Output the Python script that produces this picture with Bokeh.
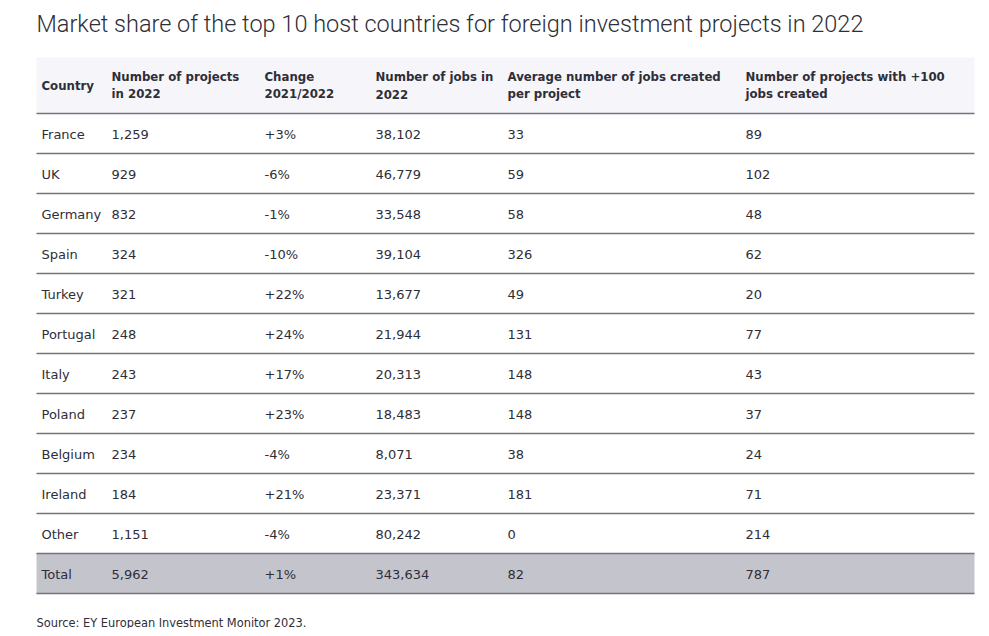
from bokeh.plotting import figure
from bokeh.models import Range1d
from bokeh.core.properties import value
from bokeh.embed import file_html
from bokeh.resources import INLINE

title = "Market share of the top 10 host countries for foreign investment projects in 2022"
source_note = "Source: EY European Investment Monitor 2023."

headers = [
    ["Country"],
    ["Number of projects", "in 2022"],
    ["Change", "2021/2022"],
    ["Number of jobs in", "2022"],
    ["Average number of jobs created", "per project"],
    ["Number of projects with +100", "jobs created"],
]

countries = ["France", "UK", "Germany", "Spain", "Turkey", "Portugal", "Italy",
             "Poland", "Belgium", "Ireland", "Other", "Total"]
projects = ["1,259", "929", "832", "324", "321", "248", "243", "237", "234", "184", "1,151", "5,962"]
change = ["+3%", "-6%", "-1%", "-10%", "+22%", "+24%", "+17%", "+23%", "-4%", "+21%", "-4%", "+1%"]
jobs = ["38,102", "46,779", "33,548", "39,104", "13,677", "21,944", "20,313", "18,483",
        "8,071", "23,371", "80,242", "343,634"]
avg_jobs = ["33", "59", "58", "326", "49", "131", "148", "148", "38", "181", "0", "82"]
over_100 = ["89", "102", "48", "62", "20", "77", "43", "37", "24", "71", "214", "787"]

# layout (page pixel coordinates)
W, H = 981, 628
X0, X1 = 36, 974
COL_X = [41, 111, 264, 375, 507, 745]
HEAD_TOP, HEAD_BOT = 57, 113
ROW_H = 40
TEXT_C = "#2e2e38"
LINE_C = "#747480"

p = figure(width=W, height=H, output_backend="svg", toolbar_location=None,
           x_range=Range1d(0, W), y_range=Range1d(H, 0),
           min_border=0, outline_line_color=None, background_fill_color="white")
p.xaxis.visible = False
p.yaxis.visible = False
p.grid.visible = False

# header background
p.quad(left=[X0], right=[X1], top=[HEAD_TOP], bottom=[HEAD_BOT],
       fill_color="#f6f6fa", line_color=None)

n = len(countries)
tops = [HEAD_BOT + ROW_H * i for i in range(n)]
bots = [t + ROW_H for t in tops]

# total row background
p.quad(left=[X0], right=[X1], top=[tops[-1]], bottom=[bots[-1]],
       fill_color="#c4c4cd", line_color=None)

# row lines
ys = [HEAD_BOT] + bots
p.segment(x0=[X0] * len(ys), x1=[X1] * len(ys), y0=ys, y1=ys,
          line_color=LINE_C, line_width=1.3)

# header texts
hx, hy, ht = [], [], []
for cx, lines in zip(COL_X, headers):
    if len(lines) == 1:
        hx.append(cx); hy.append((HEAD_TOP + HEAD_BOT) / 2 + 0.5); ht.append(lines[0])
    else:
        for k, ln in enumerate(lines):
            hx.append(cx); hy.append(76.5 + 17 * k); ht.append(ln)
p.text(x=hx, y=hy, text=ht, text_font=value("DejaVu Sans"), text_font_style="bold",
       text_font_size="11.75px", text_color=TEXT_C, text_baseline="middle", text_align="left")

# body texts
cols = [countries, projects, change, jobs, avg_jobs, over_100]
bx, by, bt = [], [], []
for cx, col in zip(COL_X, cols):
    for i, v in enumerate(col):
        bx.append(cx); by.append(tops[i] + ROW_H / 2 + 0.5); bt.append(v)
p.text(x=bx, y=by, text=bt, text_font=value("DejaVu Sans"),
       text_font_size="13px", text_color=TEXT_C, text_baseline="middle", text_align="left")

# title and source
p.text(x=[36], y=[23], text=[title], text_font=value("'Roboto Light', Roboto"), text_font_style="normal",
       text_font_size="23.5px", text_color=TEXT_C, text_baseline="middle", text_align="left")
p.text(x=[36], y=[622], text=[source_note], text_font=value("DejaVu Sans"),
       text_font_size="11.4px", text_color=TEXT_C, text_baseline="middle", text_align="left")

open("out.html", "w").write(file_html(p, INLINE))
